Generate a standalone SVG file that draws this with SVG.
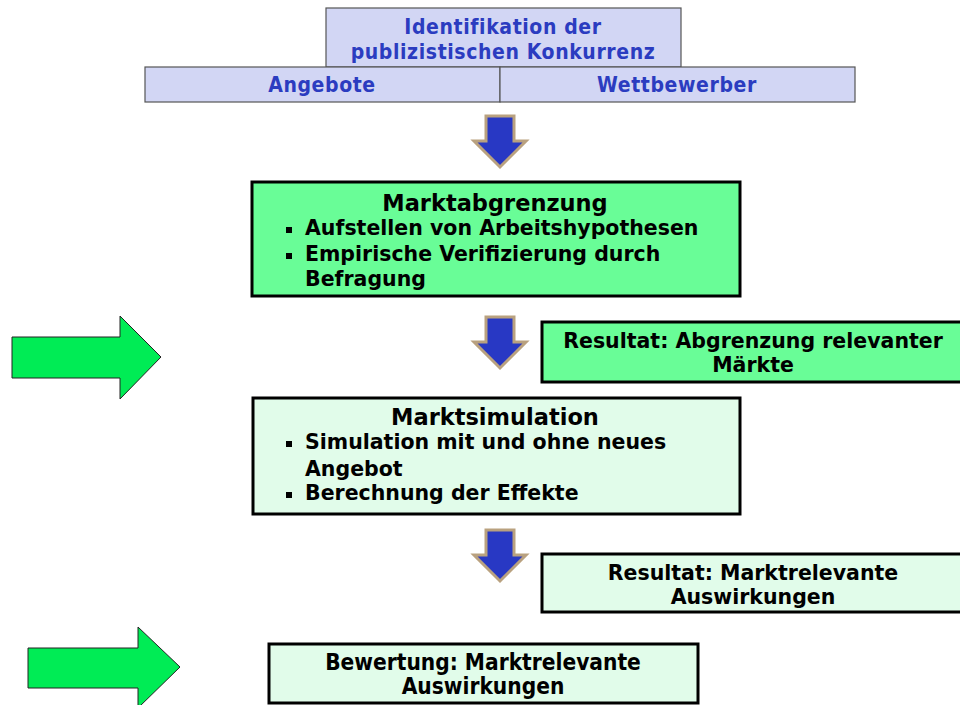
<svg xmlns="http://www.w3.org/2000/svg" width="960" height="705" viewBox="0 0 960 705">
<style>
.hd{fill:#d2d6f4;stroke:#555;stroke-width:1.2}
.ht{font-family:"DejaVu Sans Condensed","DejaVu Sans",sans-serif;font-stretch:condensed;font-weight:bold;font-size:21px;letter-spacing:0.6px;fill:#2b3cc0;text-anchor:middle}
.g1{fill:#69fd97;stroke:#000;stroke-width:3}
.g2{fill:#e1fcea;stroke:#000;stroke-width:3}
.t{font-family:"DejaVu Sans",Verdana,sans-serif;font-weight:bold;font-size:20.5px;fill:#000}
.tc{text-anchor:middle}
.tt{font-size:22.5px}
.cn{font-family:"DejaVu Sans Condensed","DejaVu Sans",sans-serif;font-stretch:condensed;font-size:22.5px}
.ba{fill:#2838c4;stroke:#b9a17f;stroke-width:3;stroke-linejoin:miter}
.ga{fill:#00ec55;stroke:#222;stroke-width:1}
</style>
<defs>
<path id="down" d="M-14,0 H14 V25 H26 L0,51 L-26,25 H-14 Z"/>
</defs>
<g id="ident">
<rect class="hd" x="326" y="8" width="355" height="59"/>
<text class="ht" x="503" y="34">Identifikation der</text>
<text class="ht" x="503" y="59">publizistischen Konkurrenz</text>
</g>
<g id="angebote">
<rect class="hd" x="145" y="67" width="355" height="35"/>
<text class="ht" x="322" y="92">Angebote</text>
</g>
<g id="wettbewerber">
<rect class="hd" x="500" y="67" width="355" height="35"/>
<text class="ht" x="677" y="92">Wettbewerber</text>
</g>
<g id="connectors">
<use href="#down" class="ba" x="500" y="116"/>
<use href="#down" class="ba" x="500" y="317"/>
<use href="#down" class="ba" x="500" y="530"/>
<path class="ga" d="M12,337 H120 V316 L161,357 L120,399 V378 H12 Z"/>
<path class="ga" d="M28,648 H138 V627 L180,667 L138,708 V688 H28 Z"/>
</g>
<g id="marktabgrenzung">
<rect class="g1" x="252" y="182" width="488" height="114"/>
<text class="t tc tt" x="495" y="211">Marktabgrenzung</text>
<rect x="286" y="227" width="6" height="6"/>
<text class="t" x="305" y="235">Aufstellen von Arbeitshypothesen</text>
<rect x="286" y="253" width="6" height="6"/>
<text class="t" x="305" y="261">Empirische Verifizierung durch</text>
<text class="t" x="305" y="286">Befragung</text>
</g>
<g id="resultat1">
<rect class="g1" x="542" y="322" width="425" height="60"/>
<text class="t tc" x="753" y="348">Resultat: Abgrenzung relevanter</text>
<text class="t tc" x="753" y="372">Märkte</text>
</g>
<g id="marktsimulation">
<rect class="g2" x="253" y="398" width="487" height="116"/>
<text class="t tc tt" x="495" y="425">Marktsimulation</text>
<rect x="286" y="441" width="6" height="6"/>
<text class="t" x="305" y="449">Simulation mit und ohne neues</text>
<text class="t" x="305" y="476">Angebot</text>
<rect x="286" y="492" width="6" height="6"/>
<text class="t" x="305" y="500">Berechnung der Effekte</text>
</g>
<g id="resultat2">
<rect class="g2" x="542" y="554" width="425" height="58"/>
<text class="t tc" x="753" y="580">Resultat: Marktrelevante</text>
<text class="t tc" x="753" y="604">Auswirkungen</text>
</g>
<g id="bewertung">
<rect class="g2" x="269" y="644" width="429" height="59"/>
<text class="t tc cn" x="483" y="670">Bewertung: Marktrelevante</text>
<text class="t tc cn" x="483" y="694">Auswirkungen</text>
</g>
</svg>
